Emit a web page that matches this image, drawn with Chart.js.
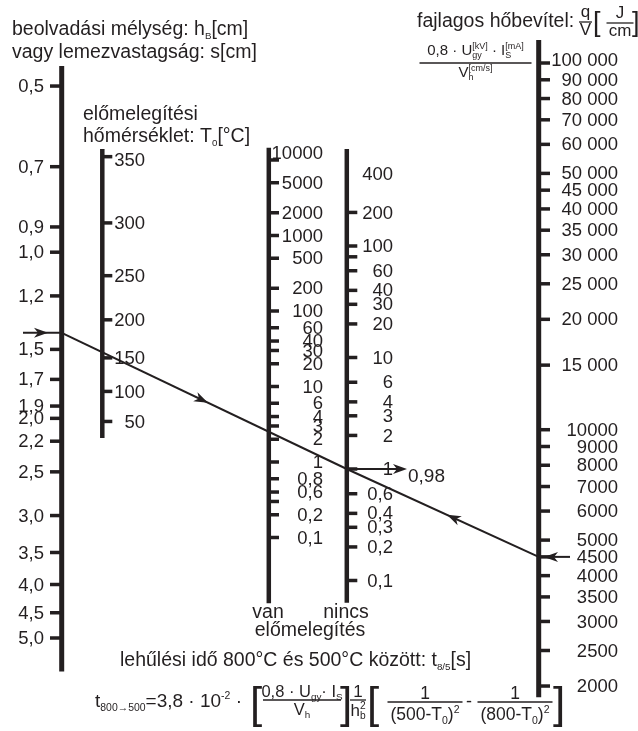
<!DOCTYPE html>
<html>
<head>
<meta charset="utf-8">
<script src="https://cdn.jsdelivr.net/npm/chart.js@4.4.1/dist/chart.umd.min.js"></script>
<style>
  html, body { margin: 0; padding: 0; background: #fff; }
  #wrap { width: 638px; height: 731px; position: relative; }
</style>
</head>
<body>
<div id="wrap"><canvas id="nomo"></canvas></div>
<script>
// _+_+_+_+_+_+_+_ SCALE VALUES _+_+_+_+_+_+_+_
const depthValues = [0.5, 0.7, 0.9, 1.0, 1.2, 1.5, 1.7, 1.9, 2.0, 2.2, 2.5, 3.0, 3.5, 4.0, 4.5, 5.0];
const depthLabels = ['0,5', '0,7', '0,9', '1,0', '1,2', '1,5', '1,7', '1,9', '2,0', '2,2', '2,5', '3,0', '3,5', '4,0', '4,5', '5,0'];

const preheatValues = [350, 300, 250, 200, 150, 100, 50];
const preheatLabels = ['350', '300', '250', '200', '150', '100', '50'];

const withPreheatValues = [10000, 5000, 2000, 1000, 500, 200, 100, 60, 40, 30, 20, 10, 6, 4, 3, 2, 1, 0.6, 0.4, 0.3, 0.2, 0.1];
const withPreheatLabels = ['10000', '5000', '2000', '1000', '500', '200', '100', '60', '40', '30', '20', '10', '6', '4', '3', '2', '1', '0,8', '0,6', '', '0,2', '0,1'];

const noPreheatValues = [400, 200, 100, 80, 60, 40, 30, 20, 10, 6, 4, 3, 2, 1, 0.6, 0.4, 0.3, 0.2, 0.1];
const noPreheatLabels = ['400', '200', '100', '', '60', '40', '30', '20', '10', '6', '4', '3', '2', '1', '0,6', '0,4', '0,3', '0,2', '0,1'];
const noPreheatUnticked = [400];

const heatValues = [100000, 90000, 80000, 70000, 60000, 50000, 45000, 40000, 35000, 30000, 25000, 20000, 15000,
    10000, 9000, 8000, 7000, 6000, 5000, 4500, 4000, 3500, 3000, 2500, 2000];
const heatLabels = ['100 000', '90 000', '80 000', '70 000', '60 000', '50 000', '45 000', '40 000', '35 000', '30 000', '25 000', '20 000', '15 000',
    '10000', '9000', '8000', '7000', '6000', '5000', '4500', '4000', '3500', '3000', '2500', '2000'];

// worked example drawn across the nomogram
const exampleDepth = 1.4;
const examplePivot = 1;
const exampleHeat = 4500;
const exampleResult = '0,98';

// _+_+_+_+_+_+_+_ STYLE _+_+_+_+_+_+_+_
const INK = '#231f20';
const FONT = '"Liberation Sans", Arial, Helvetica, sans-serif';
const font = s => s + 'px ' + FONT;

// the preheat axis carries the bracket term of the formula, on a log scale
function preheatTerm(t) {
    return 1 / Math.pow(500 - t, 2) - 1 / Math.pow(800 - t, 2);
}
const same = v => v;

const axisDefs = [
    { id: 'h', x: 61.7, width: 5, tick: -11.7, labelX: 44, span: [0.46, 5.75], values: depthValues, labels: depthLabels, map: same },
    { id: 't0', x: 102.3, width: 4.5, tick: 10, labelX: 145, span: [355, 20], values: preheatValues, labels: preheatLabels, map: preheatTerm, topLabelDy: 3 },
    { id: 'van', x: 268.8, width: 4.5, tick: 10.2, labelX: 323, span: [14500, 0.0135], values: withPreheatValues, labels: withPreheatLabels, map: same, topLabelDy: -7 },
    { id: 'nincs', x: 346.8, width: 4.5, tick: 10.5, labelX: 393, span: [740, 0.063], values: noPreheatValues, labels: noPreheatLabels, map: same, unticked: noPreheatUnticked, topLabelDy: -5 },
    { id: 'q', x: 538.7, width: 5, tick: 11.3, labelX: 618, span: [115500, 1865], values: heatValues, labels: heatLabels, map: same, topLabelDy: -3 }
];

// _+_+_+_+_+_+_+_ DATASETS: axis lines and tick marks _+_+_+_+_+_+_+_
const datasets = [];
axisDefs.forEach(a => {
    datasets.push({
        data: a.span.map(v => ({ x: a.x, y: a.map(v) })),
        yAxisID: a.id,
        showLine: true,
        borderColor: INK,
        borderWidth: a.width,
        borderCapStyle: 'butt',
        pointRadius: 0
    });
    const ticked = a.values.filter(v => !(a.unticked || []).includes(v));
    datasets.push({
        data: ticked.map(v => ({ x: a.x + a.tick / 2, y: a.map(v) })),
        yAxisID: a.id,
        showLine: false,
        pointStyle: 'line',
        pointRadius: Math.abs(a.tick) / 2,
        pointHoverRadius: Math.abs(a.tick) / 2,
        borderColor: INK,
        borderWidth: 3.5
    });
});

// _+_+_+_+_+_+_+_ TEXT HELPERS _+_+_+_+_+_+_+_
function richWidth(ctx, parts, size) {
    let w = 0;
    parts.forEach(p => {
        if (typeof p === 'string') {
            ctx.font = font(size);
            w += ctx.measureText(p).width;
        } else {
            ctx.font = font(size * (p.scale || 0.56));
            w += Math.max(p.sub ? ctx.measureText(p.sub).width : 0, p.sup ? ctx.measureText(p.sup).width : 0);
        }
    });
    return w;
}

function drawRich(ctx, x, y, parts, size, align) {
    let cx = align === 'center' ? x - richWidth(ctx, parts, size) / 2 : x;
    ctx.textAlign = 'left';
    ctx.textBaseline = 'alphabetic';
    parts.forEach(p => {
        if (typeof p === 'string') {
            ctx.font = font(size);
            ctx.fillText(p, cx, y);
            cx += ctx.measureText(p).width;
        } else {
            ctx.font = font(size * (p.scale || 0.56));
            let w = 0;
            if (p.sub) {
                ctx.fillText(p.sub, cx, y + size * 0.2);
                w = ctx.measureText(p.sub).width;
            }
            if (p.sup) {
                ctx.fillText(p.sup, cx, y - size * 0.42);
                w = Math.max(w, ctx.measureText(p.sup).width);
            }
            cx += w;
        }
    });
    return cx;
}

function drawFrac(ctx, cx, lineY, num, den, size, up, down, lineW) {
    drawRich(ctx, cx, lineY - up, num, size, 'center');
    drawRich(ctx, cx, lineY + down, den, size, 'center');
    const w = lineW || Math.max(richWidth(ctx, num, size), richWidth(ctx, den, size)) + 2;
    ctx.lineWidth = 1.3;
    ctx.beginPath();
    ctx.moveTo(cx - w / 2, lineY);
    ctx.lineTo(cx + w / 2, lineY);
    ctx.stroke();
}

function glyph(ctx, ch, x, y, size) {
    ctx.font = font(size);
    ctx.textAlign = 'left';
    ctx.textBaseline = 'alphabetic';
    ctx.fillText(ch, x, y);
}

function arrowHead(ctx, x, y, ang) {
    ctx.save();
    ctx.translate(x, y);
    ctx.rotate(ang);
    ctx.beginPath();
    ctx.moveTo(0, 0);
    ctx.lineTo(-14, -5);
    ctx.lineTo(-10, 0);
    ctx.lineTo(-14, 5);
    ctx.closePath();
    ctx.fill();
    ctx.restore();
}

function segment(ctx, x1, y1, x2, y2) {
    ctx.beginPath();
    ctx.moveTo(x1, y1);
    ctx.lineTo(x2, y2);
    ctx.stroke();
}

// _+_+_+_+_+_+_+_ PLUGIN: labels, example line, titles _+_+_+_+_+_+_+_
const nomogramText = {
    id: 'nomogramText',
    afterDatasetsDraw(chart) {
        const ctx = chart.ctx;
        const sx = chart.scales.x;
        ctx.save();
        ctx.fillStyle = INK;
        ctx.strokeStyle = INK;

        //TICK LABELS
        axisDefs.forEach(a => {
            const s = chart.scales[a.id];
            ctx.font = font(18.5);
            ctx.textAlign = 'right';
            ctx.textBaseline = 'middle';
            a.values.forEach((v, i) => {
                const dy = i === 0 ? (a.topLabelDy || 0) : 0;
                if (a.labels[i]) ctx.fillText(a.labels[i], sx.getPixelForValue(a.labelX), s.getPixelForValue(a.map(v)) + 1 + dy);
            });
        });

        //EXAMPLE LINE
        const ax = sx.getPixelForValue(axisDefs[0].x), ay = chart.scales.h.getPixelForValue(exampleDepth);
        const px = sx.getPixelForValue(axisDefs[3].x), py = chart.scales.nincs.getPixelForValue(examplePivot);
        const qx = sx.getPixelForValue(axisDefs[4].x), qy = chart.scales.q.getPixelForValue(exampleHeat);
        ctx.lineWidth = 2;
        segment(ctx, ax, ay, px, py);
        segment(ctx, px, py, qx, qy);
        segment(ctx, 23, ay, ax, ay);
        arrowHead(ctx, 48, ay, 0);
        const t1 = 0.513;
        arrowHead(ctx, ax + (px - ax) * t1, ay + (py - ay) * t1, Math.atan2(py - ay, px - ax));
        const t2 = 0.478;
        arrowHead(ctx, qx + (px - qx) * t2, qy + (py - qy) * t2, Math.atan2(py - qy, px - qx));
        segment(ctx, px, py, 398, py);
        arrowHead(ctx, 407, py, 0);
        segment(ctx, qx, qy, 570, qy);
        arrowHead(ctx, 544, qy, Math.PI);
        ctx.font = font(19);
        ctx.textAlign = 'left';
        ctx.textBaseline = 'middle';
        ctx.fillText(exampleResult, 408, py + 8);

        //AXIS TITLES
        drawRich(ctx, 12, 35, ['beolvadási mélység: h', { sub: 'B', scale: 0.5 }, '[cm]'], 19.5);
        drawRich(ctx, 12, 58, ['vagy lemezvastagság: s[cm]'], 19.5);
        drawRich(ctx, 83, 120, ['előmelegítési'], 19.5);
        drawRich(ctx, 83, 142, ['hőmérséklet: T', { sub: '0', scale: 0.5 }, '[°C]'], 19.5);

        drawRich(ctx, 417, 27, ['fajlagos hőbevítel:'], 19.5);
        drawFrac(ctx, 585.5, 22, ['q'], ['V'], 17, 5, 13, 13);
        glyph(ctx, '[', 593, 31, 27);
        drawFrac(ctx, 620, 23, ['J'], ['cm'], 17, 5, 13, 27);
        glyph(ctx, ']', 632, 31, 27);

        drawFrac(ctx, 475.5, 63,
            ['0,8 · U', { sub: 'gy', sup: '[kV]', scale: 0.6 }, ' · I', { sub: 'S', sup: '[mA]', scale: 0.6 }],
            ['V', { sub: 'h', sup: '[cm/s]', scale: 0.6 }], 15, 8, 14, 112);

        ctx.font = font(19.5);
        ctx.textAlign = 'center';
        ctx.textBaseline = 'alphabetic';
        ctx.fillText('van', 268, 618);
        ctx.fillText('nincs', 346, 618);
        ctx.fillText('előmelegítés', 310, 636);

        drawRich(ctx, 120, 666, ['lehűlési idő 800°C és 500°C között: t', { sub: '8/5', scale: 0.5 }, '[s]'], 19.5);

        //FORMULA
        drawRich(ctx, 95, 707, ['t', { sub: '800→500', scale: 0.55 }, '=3,8 · 10', { sup: '-2', scale: 0.55 }, ' ·'], 19);
        glyph(ctx, '[', 250, 718, 44);
        drawFrac(ctx, 302, 700, ['0,8 · U', { sub: 'gy', scale: 0.6 }, '· I', { sub: 'S', scale: 0.6 }], ['V', { sub: 'h', scale: 0.6 }], 16.5, 3, 15, 78);
        glyph(ctx, ']', 340, 718, 44);
        drawFrac(ctx, 358, 700, ['1'], ['h', { sub: 'b', sup: '2', scale: 0.6 }], 17, 3, 16, 16);
        glyph(ctx, '[', 367, 718, 44);
        drawFrac(ctx, 425, 702, ['1'], ['(500-T', { sub: '0', scale: 0.6 }, ')', { sup: '2', scale: 0.6 }], 17.5, 3, 18, 75);
        glyph(ctx, '-', 466, 707, 18);
        drawFrac(ctx, 515, 702, ['1'], ['(800-T', { sub: '0', scale: 0.6 }, ')', { sup: '2', scale: 0.6 }], 17.5, 3, 18, 75);
        glyph(ctx, ']', 553, 718, 44);

        ctx.restore();
    }
};

// _+_+_+_+_+_+_+_ CHART _+_+_+_+_+_+_+_
const hidden = { display: false, bounds: 'data' };
new Chart(document.getElementById('nomo'), {
    type: 'scatter',
    data: { datasets },
    options: {
        responsive: true,
        maintainAspectRatio: false,
        animation: false,
        events: [],
        layout: { padding: 0, autoPadding: false },
        plugins: { legend: { display: false }, tooltip: { enabled: false } },
        scales: {
            x: { ...hidden, type: 'linear', min: 0, max: 638 },
            h: { ...hidden, type: 'logarithmic', axis: 'y', position: 'left', min: 0.3492, max: 7.370, reverse: true },
            t0: { ...hidden, type: 'logarithmic', axis: 'y', position: 'left', min: 1.6499e-7, max: 1.7606e-4 },
            van: { ...hidden, type: 'logarithmic', axis: 'y', position: 'left', min: 2.7355e-4, max: 1.3157e6 },
            nincs: { ...hidden, type: 'logarithmic', axis: 'y', position: 'left', min: 0.0044689, max: 16080 },
            q: { ...hidden, type: 'logarithmic', axis: 'y', position: 'left', min: 1508, max: 148530 }
        }
    },
    plugins: [nomogramText]
});
</script>
</body>
</html>
